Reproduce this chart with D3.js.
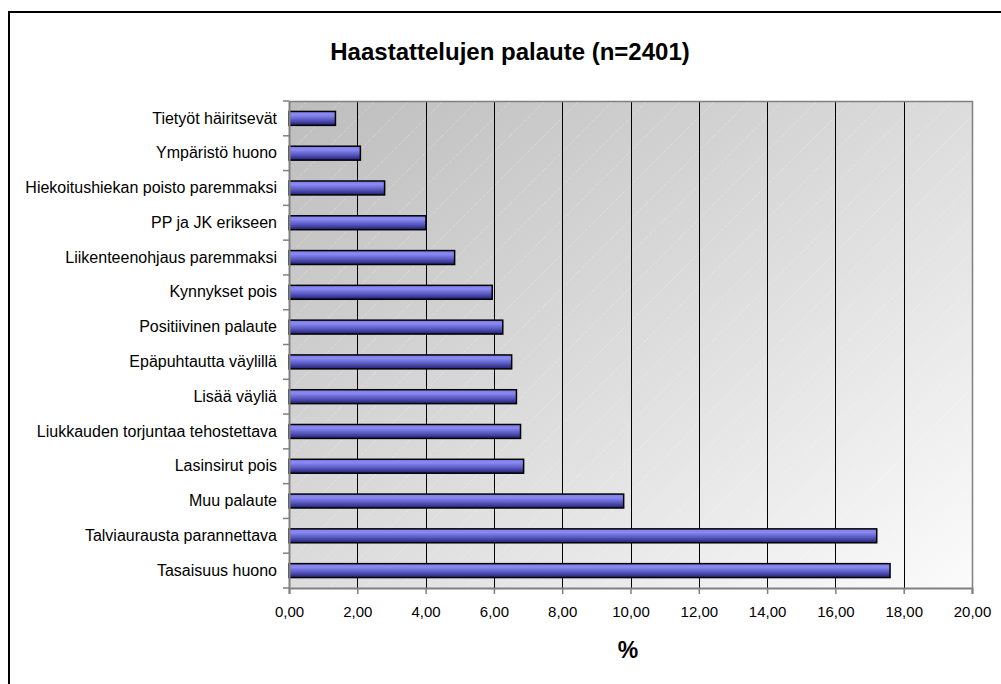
<!DOCTYPE html>
<html lang="fi">
<head>
    <meta charset="UTF-8">
    <title>Haastattelujen palaute</title>
    <script src="https://d3js.org/d3.v7.min.js"></script>
    <style>
        body{ margin:0; background:#fff; }
        svg{ display:block; font-family:"Liberation Sans", Arial, sans-serif; }
    </style>
</head>
<body>
<svg width="1001" height="684"></svg>
<script>
    // data (top to bottom)
    const categories = [
        "Tietyöt häiritsevät",
        "Ympäristö huono",
        "Hiekoitushiekan poisto paremmaksi",
        "PP ja JK erikseen",
        "Liikenteenohjaus paremmaksi",
        "Kynnykset pois",
        "Positiivinen palaute",
        "Epäpuhtautta väylillä",
        "Lisää väyliä",
        "Liukkauden torjuntaa tehostettava",
        "Lasinsirut pois",
        "Muu palaute",
        "Talviaurausta parannettava",
        "Tasaisuus huono"
    ];
    const values = [1.36, 2.09, 2.80, 4.01, 4.85, 5.95, 6.26, 6.52, 6.66, 6.78, 6.87, 9.80, 17.21, 17.60];
    const xTicks = [0, 2, 4, 6, 8, 10, 12, 14, 16, 18, 20];
    const title = "Haastattelujen palaute (n=2401)";
    const xTitle = "%";

    const svg = d3.select('svg');
    const pLeft = 289, pRight = 972, pTop = 101, pBottom = 588;

    const x = d3.scaleLinear().domain([0, 20]).range([pLeft, pRight]);
    const y = d3.scaleBand().domain(categories).range([pTop, pBottom]).paddingInner(0.6).paddingOuter(0.3);
    const yb = d3.scaleBand().domain(categories).range([pTop, pBottom]);

    const defs = svg.append('defs');
    // plot background gradient
    const bg = defs.append('linearGradient').attr('id', 'bg')
        .attr('x1', '0%').attr('y1', '0%').attr('x2', '100%').attr('y2', '100%');
    bg.append('stop').attr('offset', '0%').attr('stop-color', '#bdbdbd');
    bg.append('stop').attr('offset', '100%').attr('stop-color', '#fbfbfb');

    // faint diagonal hatch
    const pat = defs.append('pattern').attr('id', 'hatch')
        .attr('patternUnits', 'userSpaceOnUse').attr('width', 34).attr('height', 34);
    pat.append('path').attr('d', 'M0,34 L34,0')
        .attr('stroke', '#ffffff').attr('stroke-opacity', 0.35)
        .attr('stroke-width', 0.8).attr('stroke-dasharray', '3,2');

    // bar gradient
    const bar = defs.append('linearGradient').attr('id', 'bar')
        .attr('x1', '0%').attr('y1', '0%').attr('x2', '0%').attr('y2', '100%');
    [['0%', '#7d7de8'], ['25%', '#8a8af2'], ['45%', '#6e6ed8'], ['65%', '#5454b8'], ['82%', '#3a3a98'], ['100%', '#1f1f6e']]
        .forEach(s => bar.append('stop').attr('offset', s[0]).attr('stop-color', s[1]));

    // outer frame
    svg.append('path').attr('d', 'M9,684 L9,12 L1001,12')
        .attr('fill', 'none').attr('stroke', '#000').attr('stroke-width', 2);

    svg.append('text').attr('x', 510).attr('y', 60).attr('text-anchor', 'middle')
        .attr('font-size', 24).attr('font-weight', 'bold').text(title);

    // plot area
    svg.append('rect').attr('x', pLeft).attr('y', pTop)
        .attr('width', pRight - pLeft).attr('height', pBottom - pTop).attr('fill', 'url(#bg)');
    svg.append('rect').attr('x', pLeft).attr('y', pTop)
        .attr('width', pRight - pLeft).attr('height', pBottom - pTop).attr('fill', 'url(#hatch)');

    // gridlines
    svg.append('g').selectAll('line').data(xTicks.slice(1, -1)).enter().append('line')
        .attr('x1', d => Math.round(x(d)) + 0.5).attr('x2', d => Math.round(x(d)) + 0.5)
        .attr('y1', pTop).attr('y2', pBottom)
        .attr('stroke', '#000').attr('stroke-width', 1);

    // plot border top / right
    svg.append('path').attr('d', `M${pLeft},${pTop + 0.5} H${pRight + 0.5} V${pBottom}`)
        .attr('fill', 'none').attr('stroke', '#808080').attr('stroke-width', 1.5);

    // bars
    svg.append('g').selectAll('rect').data(values).enter().append('rect')
        .attr('x', x(0))
        .attr('y', (d, i) => y(categories[i]))
        .attr('width', d => x(d) - x(0))
        .attr('height', y.bandwidth())
        .attr('fill', 'url(#bar)')
        .attr('stroke', '#000').attr('stroke-width', 1.5);

    // y axis
    const yAxis = d3.axisLeft(yb).tickSize(0).tickPadding(12);
    const gy = svg.append('g').attr('transform', `translate(${pLeft},0)`).call(yAxis);
    gy.select('.domain').attr('stroke', '#808080').attr('stroke-width', 2);
    gy.selectAll('text').attr('font-size', 16).attr('fill', '#000')
        .attr('font-family', '"Liberation Sans", Arial, sans-serif');
    // category separator ticks
    gy.append('g').selectAll('line').data(d3.range(categories.length + 1)).enter().append('line')
        .attr('x1', -6).attr('x2', 0)
        .attr('y1', i => pTop + i * yb.step()).attr('y2', i => pTop + i * yb.step())
        .attr('stroke', '#808080').attr('stroke-width', 1.5);

    // x axis
    const xAxis = d3.axisBottom(x).tickValues(xTicks).tickSize(6).tickPadding(12)
        .tickFormat(d => d3.format('.2f')(d).replace('.', ','));
    const gx = svg.append('g').attr('transform', `translate(0,${pBottom})`).call(xAxis);
    gx.select('.domain').attr('stroke', '#808080').attr('stroke-width', 2);
    gx.selectAll('.tick line').attr('stroke', '#808080').attr('stroke-width', 1.5);
    gx.selectAll('text').attr('font-size', 15).attr('fill', '#000')
        .attr('font-family', '"Liberation Sans", Arial, sans-serif');

    svg.append('text').attr('x', 628).attr('y', 658).attr('text-anchor', 'middle')
        .attr('font-size', 23).attr('font-weight', 'bold').text(xTitle);
</script>
</body>
</html>
